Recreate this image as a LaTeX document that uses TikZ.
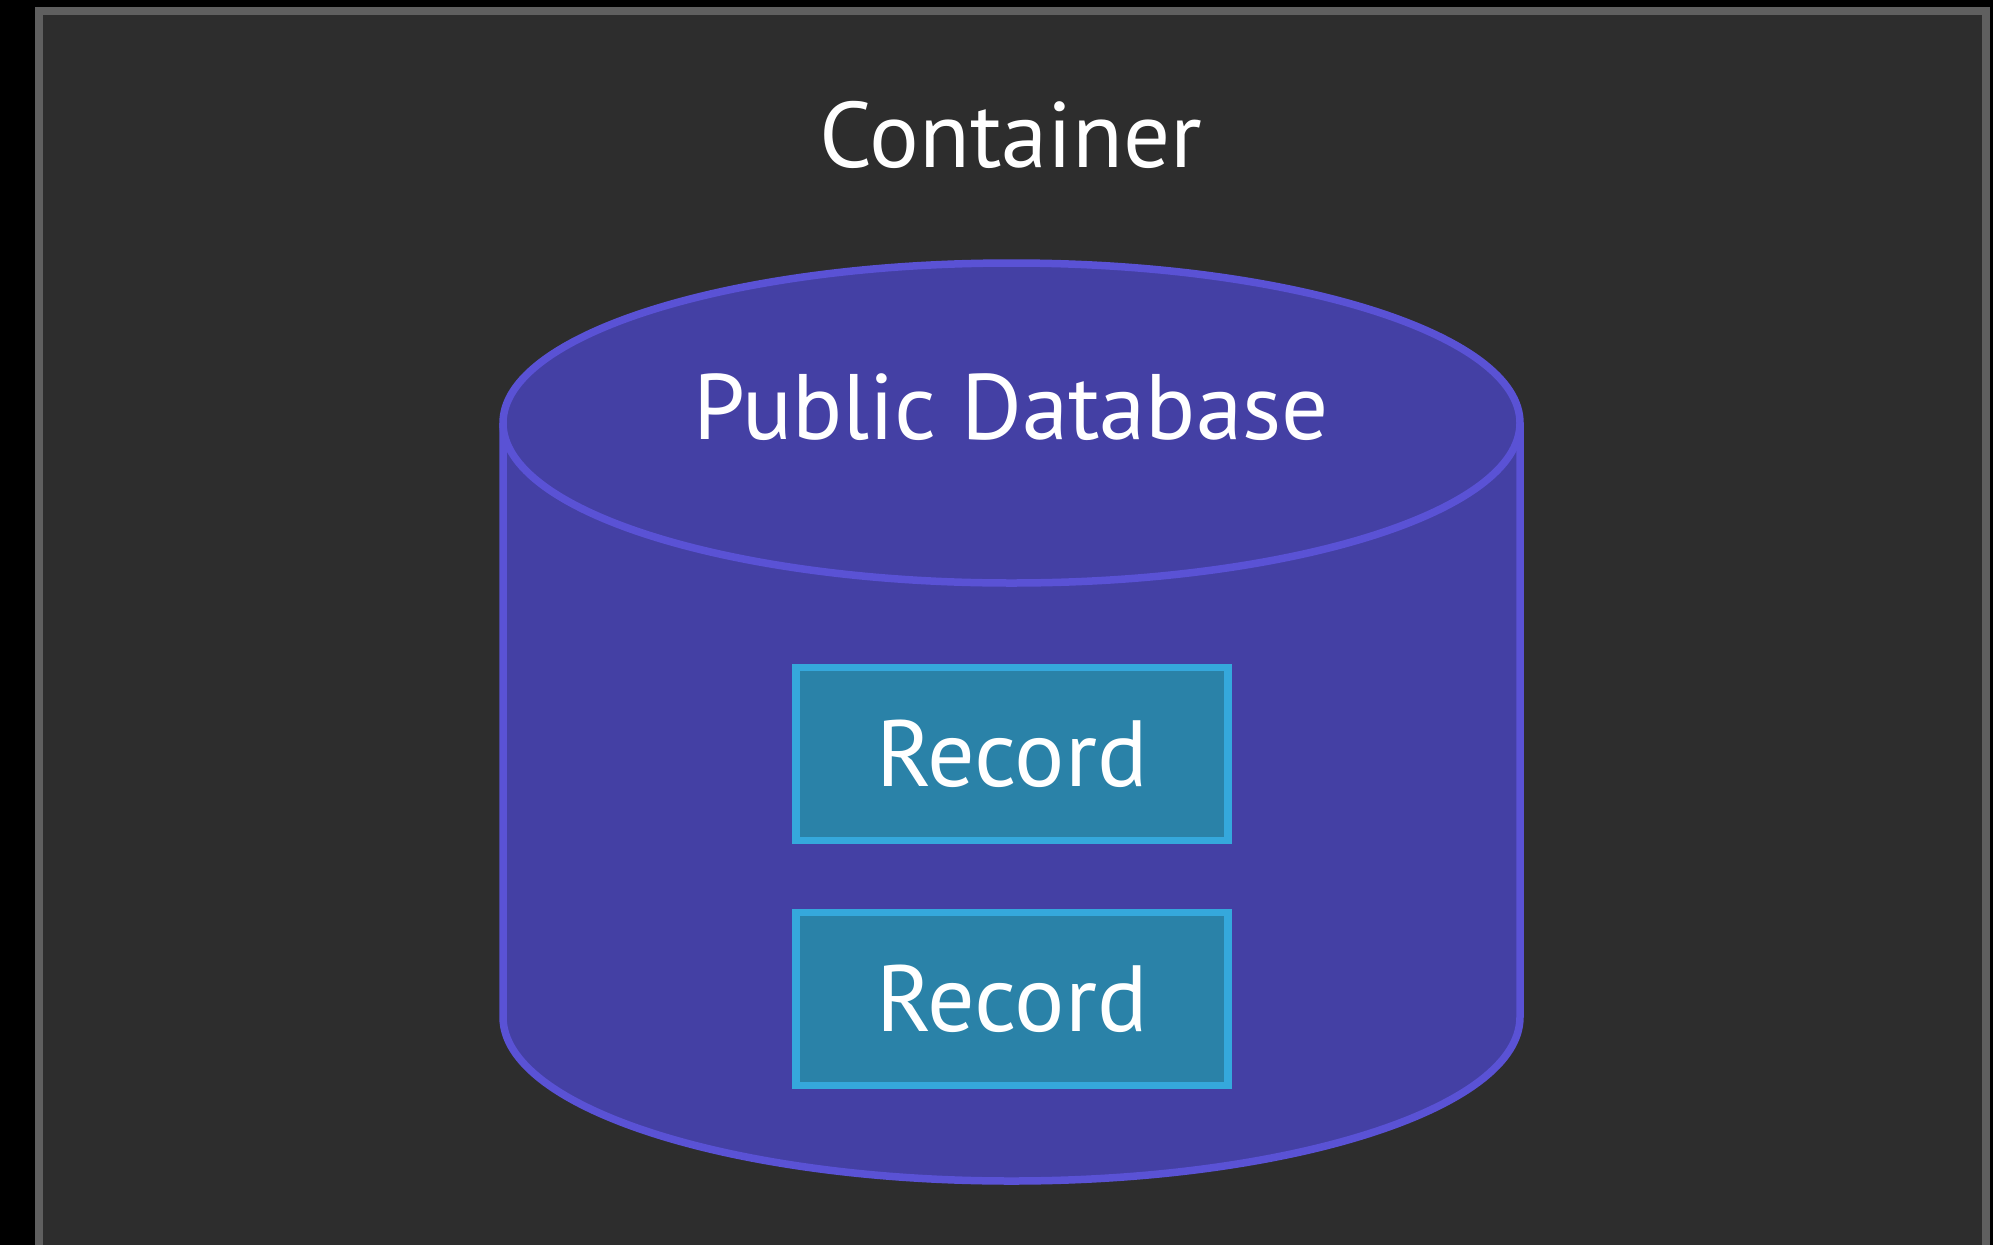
\documentclass[tikz,border=0pt]{standalone}
\usepackage{fontspec}
\setmainfont{PT Sans}
\definecolor{pagebg}{HTML}{000000}
\definecolor{framegray}{HTML}{5F5F5F}
\definecolor{panelbg}{HTML}{2D2D2D}
\definecolor{dbfill}{HTML}{4440A4}
\definecolor{dbline}{HTML}{5A52D5}
\definecolor{recfill}{HTML}{2A82A8}
\definecolor{recline}{HTML}{35A8DC}
\tikzset{
  dbshape/.style={fill=dbfill, draw=dbline, line width=7.5pt},
  recbox/.style={fill=recfill, draw=recline, line width=7.5pt, minimum width=432pt, minimum height=173pt, inner sep=0pt, text=white, font=\fontsize{94}{94}\selectfont},
  label/.style={text=white, inner sep=0pt}
}
\begin{document}
\begin{tikzpicture}[x=1pt, y=-1pt]
  \useasboundingbox (0,0) rectangle (1993,1245);
  % page and container panel
  \fill[pagebg] (0,0) rectangle (1993,1245);
  \fill[framegray] (35,7) rectangle (1990,1245);
  \fill[panelbg] (43,15) rectangle (1982,1245);
  \node[label, font=\fontsize{93}{93}\selectfont, anchor=base] (title) at (1011,167) {Container};
  % database cylinder
  \path[dbshape] (503,423) -- (503,1017) arc[start angle=180, end angle=0, x radius=508.5, y radius=164] -- (1520,423);
  \path[dbshape] (1011.5,423) ellipse[x radius=508.5, y radius=160];
  \node[label, font=\fontsize{93}{93}\selectfont, anchor=base] (db) at (1011,439) {Public Database};
  % records
  \node[recbox] (rec1) at (1012,754) {Record};
  \node[recbox] (rec2) at (1012,999) {Record};
\end{tikzpicture}
\end{document}
